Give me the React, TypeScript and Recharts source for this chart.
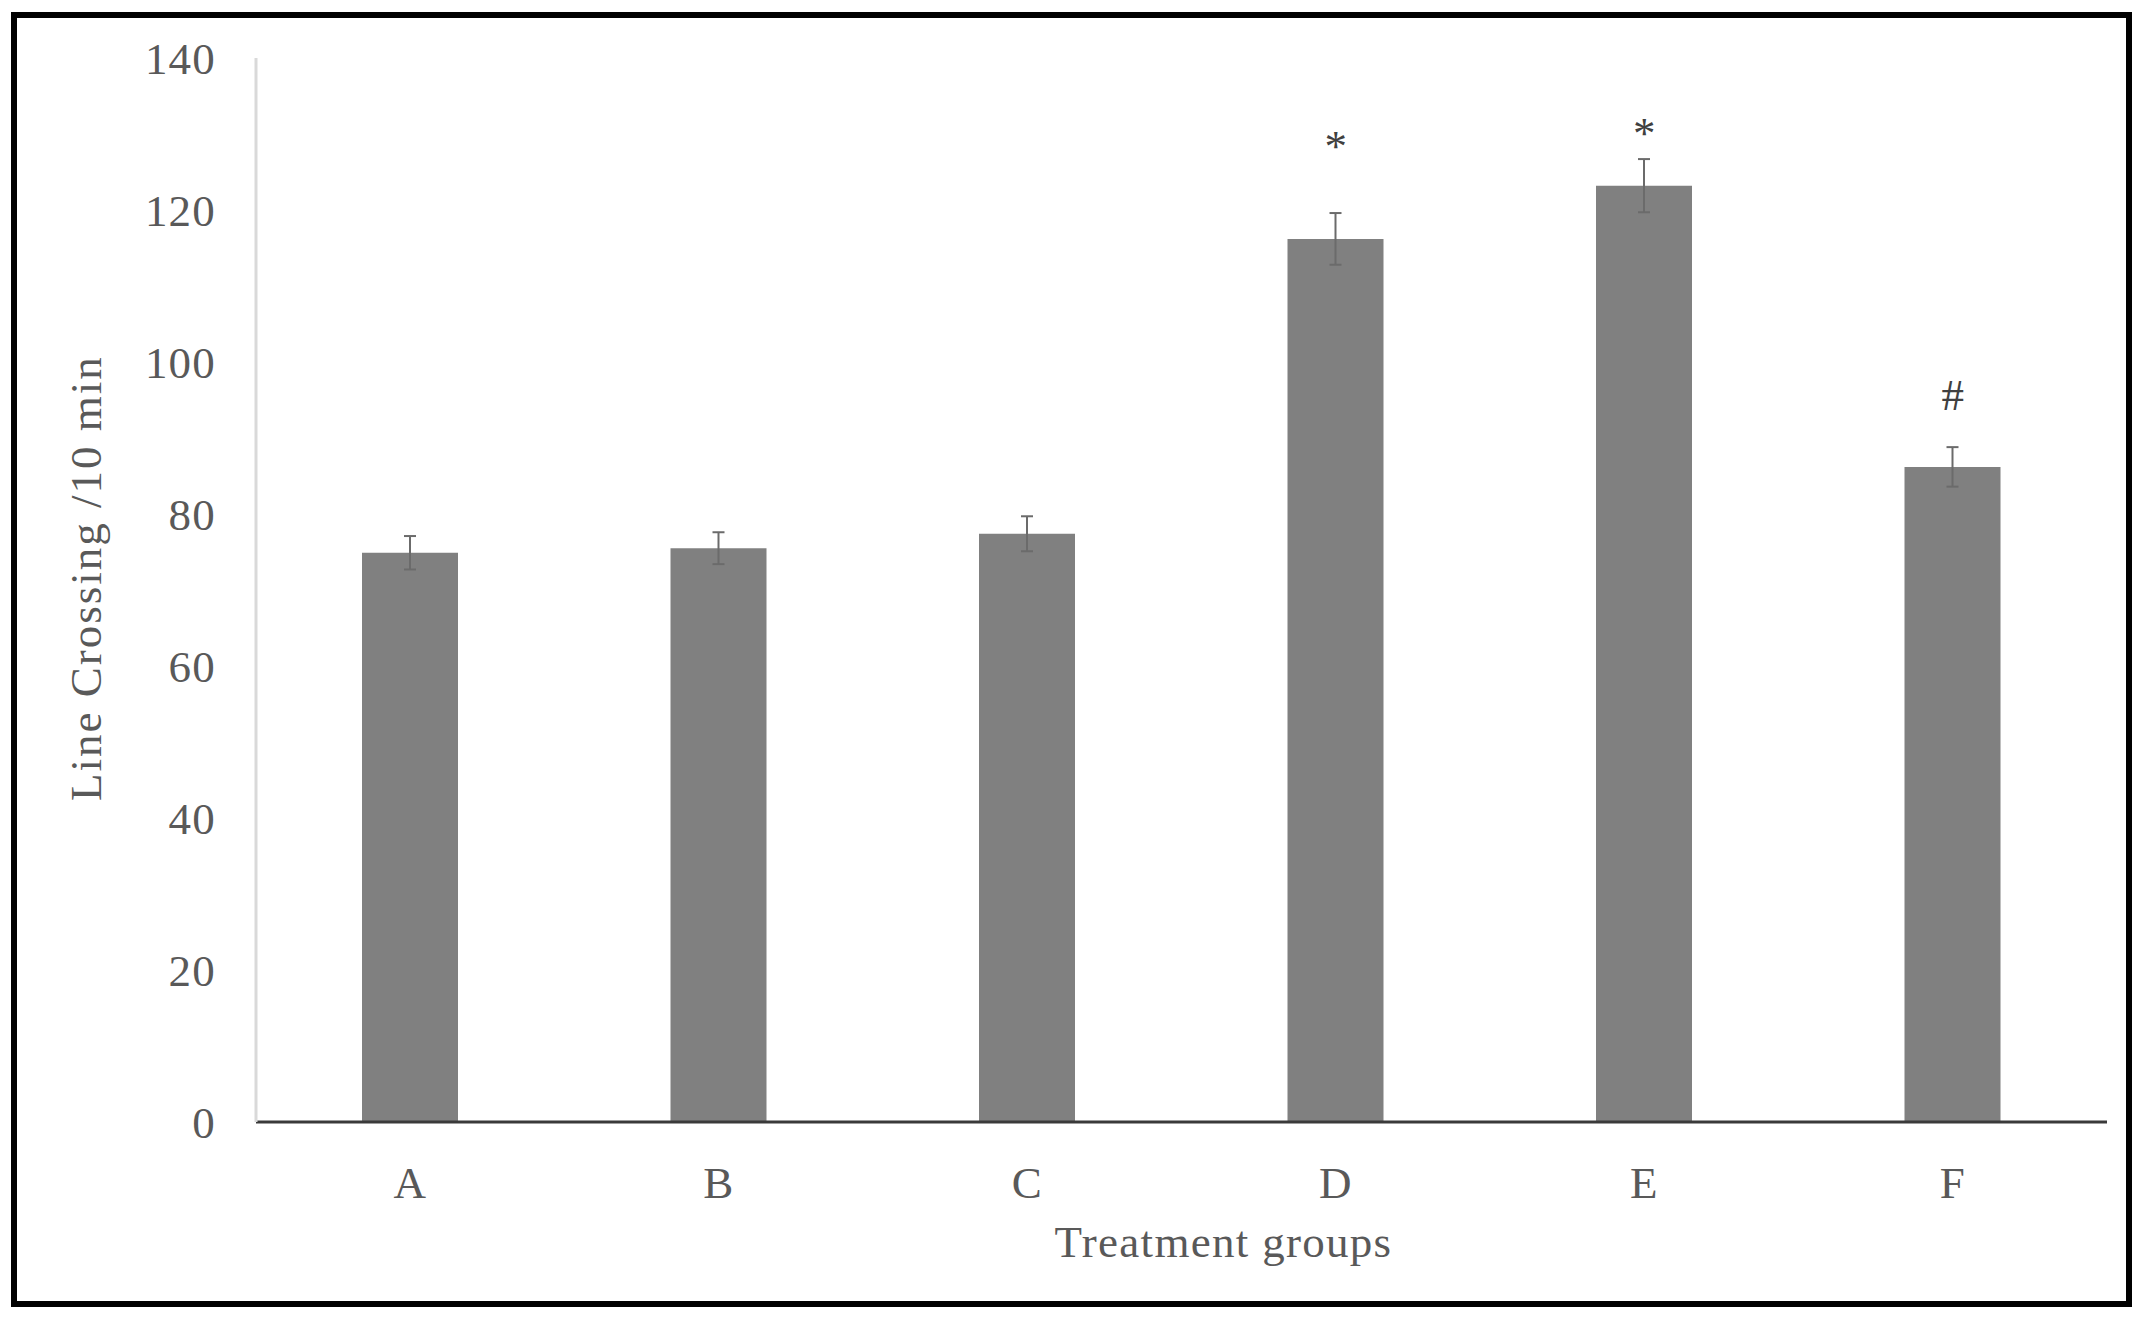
import { ComposedChart, Bar, ErrorBar, Scatter, XAxis, YAxis, Label } from 'recharts'

const groups = ['A', 'B', 'C', 'D', 'E', 'F']
const crossings = [74.9, 75.5, 77.4, 116.2, 123.2, 86.2]
const sem = [2.2, 2.1, 2.3, 3.4, 3.5, 2.6]
const marks = ['', '', '', '*', '*', '#']
const markAt = [null, null, null, 129.2, 130.9, 95.7]
const yTicks = [0, 20, 40, 60, 80, 100, 120, 140]

const FONT = '"Liberation Serif", "DejaVu Serif", serif'
const TEXT = '#595959'

const data = groups.map((g, i) => ({ group: g, value: crossings[i], err: sem[i], mark: marks[i], markY: markAt[i] }))

// glyph offset so the symbol's centre sits on the marker value
const MarkShape = (props: any) => {
  const { cx, cy, payload } = props
  if (!payload?.mark || cy == null) return <g />
  const dy = payload.mark === '*' ? 21 : 15
  return (
    <text x={cx} y={cy + dy} textAnchor="middle" fontSize={45} fontFamily={FONT} fill="#404040">
      {payload.mark}
    </text>
  )
}

const YTitle = (props: any) => {
  const { viewBox } = props
  const cy = viewBox.y + viewBox.height / 2 - 12
  return (
    <text x={86} y={cy} transform={`rotate(-90, 86, ${cy})`} textAnchor="middle" dominantBaseline="central" fontSize={45} letterSpacing={2} fontFamily={FONT} fill={TEXT}>
      Line Crossing /10 min
    </text>
  )
}

const XTitle = (props: any) => {
  const { viewBox } = props
  return (
    <text x={viewBox.x + viewBox.width / 2 + 42} y={1257} textAnchor="middle" fontSize={45} letterSpacing={1.3} fontFamily={FONT} fill={TEXT}>
      Treatment groups
    </text>
  )
}

const tickStyle = { fontSize: 45, fontFamily: FONT, fill: TEXT, letterSpacing: 1.2 }

export default function App() {
  return (
    <div style={{ position: 'absolute', left: 0, top: 0, width: 2148, height: 1323, background: '#fff' }}>
      <div style={{ position: 'absolute', left: 11, top: 12, width: 2121, height: 1295, border: '6px solid #000', boxSizing: 'border-box' }} />
      <div style={{ position: 'absolute', left: 0, top: 0 }}>
        <ComposedChart width={2148} height={1323} data={data} margin={{ top: 58, right: 41, left: 0, bottom: 51 }} barCategoryGap={106}>
          <XAxis dataKey="group" height={150} axisLine={{ stroke: '#3a3a3a', strokeWidth: 3 }} tickLine={false} tickSize={0} tickMargin={44} tick={tickStyle}>
            <Label content={<XTitle />} />
          </XAxis>
          <YAxis width={256} domain={[0, 140]} ticks={yTicks} interval={0} axisLine={{ stroke: '#d9d9d9', strokeWidth: 3 }} tickLine={false} tickSize={0} tickMargin={40} tick={tickStyle}>
            <Label content={<YTitle />} />
          </YAxis>
          <Bar dataKey="value" fill="#808080" barSize={96} isAnimationActive={false}>
            <ErrorBar dataKey="err" direction="y" width={6} stroke="#6b6b6b" strokeWidth={2} isAnimationActive={false} />
          </Bar>
          <Scatter dataKey="markY" shape={<MarkShape />} isAnimationActive={false} />
        </ComposedChart>
      </div>
    </div>
  )
}
